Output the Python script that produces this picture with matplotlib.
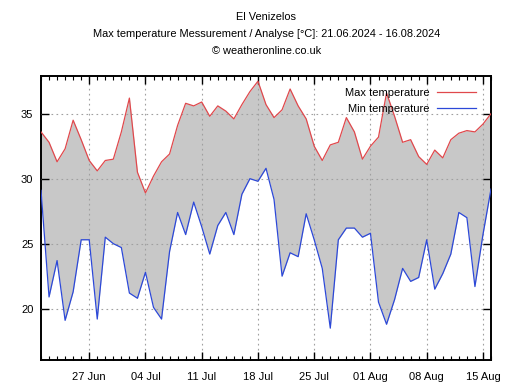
import matplotlib
matplotlib.use("Agg")
import matplotlib.pyplot as plt
import matplotlib.dates as mdates
import numpy as np
import pandas as pd

plt.rcParams['font.family'] = ['Liberation Sans', 'DejaVu Sans']

#####################################################################
# data, one value per day
start_date = "2024-06-21"
n_days = 57

max_temp = [33.6, 32.8, 31.3, 32.3, 34.5, 33.0, 31.4, 30.6, 31.4, 31.5,
            33.6, 36.2, 30.5, 28.9, 30.2, 31.3, 31.9, 34.1, 35.8, 35.6,
            35.9, 34.8, 35.6, 35.2, 34.6, 35.7, 36.7, 37.5, 35.7, 34.7,
            35.3, 36.9, 35.6, 34.6, 32.5, 31.4, 32.6, 32.8, 34.7, 33.6,
            31.5, 32.5, 33.2, 36.6, 34.8, 32.8, 33.0, 31.7, 31.1, 32.2,
            31.6, 33.0, 33.5, 33.7, 33.6, 34.2, 35.0]

min_temp = [29.1, 20.9, 23.7, 19.1, 21.3, 25.3, 25.3, 19.2, 25.5, 25.0,
            24.7, 21.2, 20.8, 22.8, 20.1, 19.2, 24.4, 27.4, 25.7, 28.2,
            26.3, 24.2, 26.4, 27.4, 25.7, 28.8, 30.0, 29.8, 30.8, 28.4,
            22.5, 24.3, 24.0, 27.3, 25.3, 23.1, 18.5, 25.3, 26.2, 26.2,
            25.5, 25.8, 20.5, 18.8, 20.7, 23.1, 22.1, 22.4, 25.3, 21.5,
            22.7, 24.2, 27.4, 27.0, 21.7, 25.7, 29.2]

days = pd.date_range(start_date, periods=n_days, freq="D")

######################################################################
fig = plt.figure(figsize=(5.10, 3.87), dpi=100)
ax = fig.add_axes([41/510, 27/387, 450/510, 284/387])

ax.fill_between(days, min_temp, max_temp, color="#c8c8c8", lw=0, zorder=1)
ax.plot(days, max_temp, color="#e0484c", lw=0.9, label="Max temperature", zorder=3)
ax.plot(days, min_temp, color="#2c48d8", lw=0.9, label="Min temperature", zorder=3)

ax.set_xlim(days[0], days[-1])
ax.set_ylim(16.05, 37.9)
ax.set_yticks([20, 25, 30, 35])

ax.xaxis.set_major_locator(mdates.WeekdayLocator(byweekday=mdates.TH))
ax.xaxis.set_minor_locator(mdates.DayLocator())
ax.xaxis.set_major_formatter(mdates.DateFormatter("%d %b"))

ax.grid(True, which="major", color="#a0a0a0", linestyle=(0, (1.5, 3)), lw=0.8, zorder=2)
ax.tick_params(which="both", direction="in", top=True, right=True,
               labelsize=8, colors="black")
ax.tick_params(axis="x", pad=8.5)
ax.tick_params(axis="y", pad=5.5)
ax.tick_params(which="major", length=5.5, width=1)
ax.tick_params(which="minor", length=3, width=0.8)
for s in ax.spines.values():
    s.set_linewidth(1.4)
ax.set_axisbelow(False)

leg = ax.legend(loc="upper right", bbox_to_anchor=(0.967, 0.957),
                frameon=False, markerfirst=False, fontsize=8,
                handlelength=3.5, borderaxespad=0, borderpad=0,
                labelspacing=0.55, handletextpad=0.7)
for t in leg.get_texts():
    t.set_ha("right")

fig.text(0.522, 1 - 17/387, "El Venizelos", ha="center", va="center", fontsize=7.9)
fig.text(0.522, 1 - 34/387, "Max temperature Messurement / Analyse [\u00b0C]: 21.06.2024 - 16.08.2024",
         ha="center", va="center", fontsize=7.9)
fig.text(0.522, 1 - 51/387, "\u00a9 weatheronline.co.uk", ha="center", va="center", fontsize=7.9)

fig.savefig("out.png", dpi=100)
